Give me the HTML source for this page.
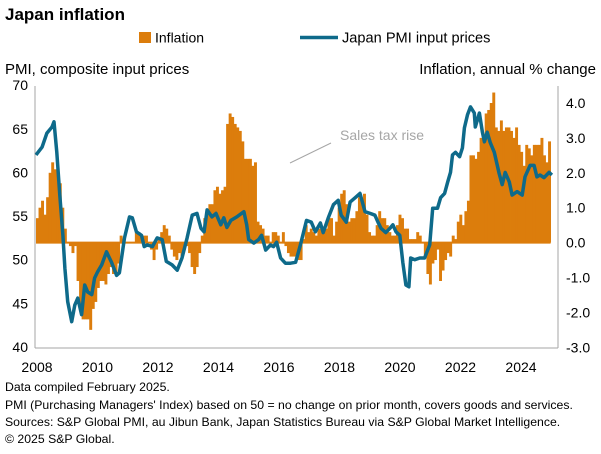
<!DOCTYPE html>
<html><head><meta charset="utf-8"><style>
body{margin:0;background:#fff;}
svg{display:block;font-family:"Liberation Sans",Arial,sans-serif;}
</style></head><body>
<svg id="chart" width="601" height="454" viewBox="0 0 601 454">
<text x="5" y="20" font-size="17" font-weight="bold" fill="#000">Japan inflation</text>
<g>
<rect x="139" y="32" width="12" height="11" fill="#DC7D0C"/>
<text x="155" y="42.5" font-size="14" fill="#000">Inflation</text>
<line x1="300" y1="37.5" x2="338" y2="37.5" stroke="#0E6A8A" stroke-width="3.5"/>
<text x="342" y="42.5" font-size="14.6" fill="#000">Japan PMI input prices</text>
</g>
<text x="5" y="74" font-size="15" fill="#000">PMI, composite input prices</text>
<text x="596" y="74" font-size="15" fill="#000" text-anchor="end">Inflation, annual % change</text>
<g id="bars"></g>
<g id="axes"></g>
<path id="pmiLine" fill="none" stroke="#0E6A8A" stroke-width="3.5" stroke-linejoin="round"/>
<line x1="290" y1="163" x2="331" y2="143" stroke="#A6A6A6" stroke-width="1"/>
<text x="340" y="140" font-size="14" fill="#A6A6A6">Sales tax rise</text>
<g font-size="12.25" fill="#000">
<text x="5" y="391">Data compiled February 2025.</text>
<text x="5" y="409">PMI (Purchasing Managers' Index) based on 50 = no change on prior month, covers goods and services.</text>
<text x="5" y="426">Sources: S&amp;P Global PMI, au Jibun Bank, Japan Statistics Bureau via S&amp;P Global Market Intelligence.</text>
<text x="5" y="443">© 2025 S&amp;P Global.</text>
</g>
</svg>
<script>
const xLabels = ["2008","2010","2012","2014","2016","2018","2020","2022","2024"];
const leftTicks = [40,45,50,55,60,65,70];
const rightTicks = [-3,-2,-1,0,1,2,3,4];
const inflation = [
0.7,1.0,1.2,0.8,1.3,2.0,2.3,2.1,2.1,1.7,1.0,0.4,
0.0,-0.1,-0.3,-0.1,-1.1,-1.8,-2.2,-2.2,-2.2,-2.5,-1.9,-1.7,
-1.3,-1.1,-1.1,-1.2,-0.9,-0.7,-0.9,-0.9,-0.6,0.2,0.1,0.0,
0.0,0.0,0.0,0.3,0.3,0.2,0.2,0.2,0.0,-0.2,-0.5,-0.2,
0.1,0.3,0.5,0.4,0.2,-0.2,-0.4,-0.5,-0.3,-0.4,-0.2,-0.1,
-0.3,-0.7,-0.9,-0.7,-0.3,0.2,0.7,0.9,1.1,1.1,1.5,1.6,
1.4,1.5,1.6,3.4,3.7,3.6,3.4,3.3,3.2,2.9,2.4,2.4,
2.4,2.2,2.3,0.6,0.5,0.4,0.2,0.2,0.0,0.3,0.3,0.2,
0.0,0.3,-0.1,-0.3,-0.4,-0.4,-0.4,-0.5,-0.5,0.1,0.5,0.3,
0.4,0.3,0.2,0.4,0.4,0.4,0.4,0.7,0.7,0.2,0.6,1.0,
1.4,1.5,1.1,0.6,0.7,0.7,0.9,1.3,1.2,1.4,0.8,0.3,
0.2,0.2,0.5,0.9,0.7,0.7,0.5,0.3,0.2,0.2,0.5,0.8,
0.7,0.4,0.4,0.1,0.1,0.1,0.3,0.2,0.0,-0.4,-0.9,-1.2,
-0.6,-0.5,-0.2,-1.1,-0.8,-0.5,-0.3,-0.4,0.2,0.1,0.6,0.8,
0.5,0.9,1.2,2.5,2.5,2.4,2.6,3.0,3.0,3.7,3.8,4.0,
4.3,3.3,3.2,3.5,3.2,3.3,3.3,3.2,3.0,3.3,2.8,2.6,
2.2,2.8,2.7,2.5,2.8,2.8,2.8,3.0,2.5,2.3,2.9];
const pmiMonths = [0,2.4,4.3,6.3,7.1,8.2,9.4,10.6,11.4,12.5,14.1,15.3,16.5,18.0,19.2,20.4,22.0,23.1,24.3,25.9,27.8,29.8,31.8,32.9,34.9,36.9,38.0,39.6,41.6,42.7,43.9,45.9,47.8,49.8,51.4,53.7,55.7,57.6,59.6,61.6,63.5,65.1,66.3,67.5,69.4,71.0,72.9,74.1,75.3,76.9,79.2,82.0,83.1,83.9,85.9,87.8,89.0,90.6,92.5,93.7,94.9,96.5,98.4,100.4,102.4,104.3,106.7,108.6,110.2,112.2,113.3,115.3,117.3,119.2,120.4,122.4,123.9,125.9,127.8,129.8,131.8,133.7,134.9,136.1,138.0,139.6,140.8,142.0,143.5,144.7,145.9,147.1,147.8,149.4,151.4,153.3,155.3,156.5,158.4,159.6,161.2,162.4,163.5,164.3,165.5,167.1,168.2,169.0,170.2,171.4,172.9,173.3,174.9,176.1,176.9,178.0,179.2,180.8,182.7,183.9,185.1,186.7,187.8,189.8,191.8,192.9,194.9,196.5,197.6,198.8,200.4,202.4,203.5];
const pmiValues = [62.0,62.9,64.5,65.2,65.8,62.3,57.4,52.8,49.0,45.2,42.9,44.8,45.6,43.7,47.1,46.3,46.0,47.9,48.6,49.4,50.9,49.7,48.2,48.5,52.5,54.9,54.8,53.2,52.8,51.5,51.7,51.5,52.5,52.3,49.8,49.4,48.8,50.2,52.5,55.1,55.3,53.6,53.2,55.7,54.9,55.3,54.0,54.8,53.7,54.5,54.9,55.5,54.0,52.3,51.9,52.3,52.8,51.1,51.7,51.5,52.0,50.2,49.6,49.6,49.7,51.7,54.5,54.3,53.2,54.2,53.1,54.8,56.3,56.8,55.1,54.3,56.6,57.1,57.6,55.5,55.3,55.1,54.3,53.6,53.1,53.6,54.0,53.2,52.8,49.7,47.1,46.9,50.2,50.0,50.2,50.2,51.7,55.9,55.9,57.1,57.6,58.9,60.0,62.0,62.3,61.8,62.8,65.1,66.6,67.5,66.8,65.2,66.8,64.6,63.5,64.6,63.4,62.3,59.9,58.6,60.0,58.9,57.4,57.8,57.4,59.5,60.8,60.8,59.5,59.7,59.4,60.0,59.7];

const NS="http://www.w3.org/2000/svg";
const X0=36, MW=2.535;
const xM = m => X0 + m*MW;
const yL = v => 347 - (v-40)*8.73;
const yR = v => 242.6 - v*34.9;
const PL=35, PR=558, PT=86, PB=348;

const axes=document.getElementById('axes');
function mk(tag, attrs, parent){const e=document.createElementNS(NS,tag);for(const k in attrs)e.setAttribute(k,attrs[k]);parent.appendChild(e);return e;}
let e;
e=mk('line',{x1:PL,y1:PT,x2:PL,y2:PB,stroke:'#A6A6A6','stroke-width':1},axes);


e=mk('line',{x1:PR,y1:PT,x2:PR,y2:PB,stroke:'#A6A6A6','stroke-width':1},axes);


e=mk('line',{x1:PL,y1:PB,x2:PR,y2:PB,stroke:'#A6A6A6','stroke-width':1},axes);


leftTicks.forEach(v=>{
  const t=mk('text',{x:28,y:yL(v)+5,'font-size':14,'text-anchor':'end',fill:'#000'},axes);
  t.textContent=v;
  
  
});
rightTicks.forEach(v=>{
  const t=mk('text',{x:566,y:yR(v)+5,'font-size':14,fill:'#000'},axes);
  t.textContent=v.toFixed(1);
  
  
});
xLabels.forEach((lab,i)=>{
  const t=mk('text',{x:37+60.5*i,y:372,'font-size':14,'text-anchor':'middle',fill:'#000'},axes);
  t.textContent=lab;
  
  
});

const bars=document.getElementById('bars');
const y0=yR(0);
inflation.forEach((v,i)=>{
  const y=yR(v);
  const r=mk('rect',{x:xM(i),y:Math.min(y,y0),width:MW+0.4,height:Math.max(Math.abs(y-y0),0.01),fill:'#DC7D0C'},bars);
  
  
});
e=mk('line',{x1:xM(0),y1:y0,x2:xM(inflation.length),y2:y0,stroke:'#DC7D0C','stroke-width':2},bars);



let d='';
pmiValues.forEach((v,i)=>{d+=(i?'L':'M')+xM(pmiMonths[i]).toFixed(1)+','+yL(v).toFixed(1);});
document.getElementById('pmiLine').setAttribute('d',d);
</script>
</body></html>
